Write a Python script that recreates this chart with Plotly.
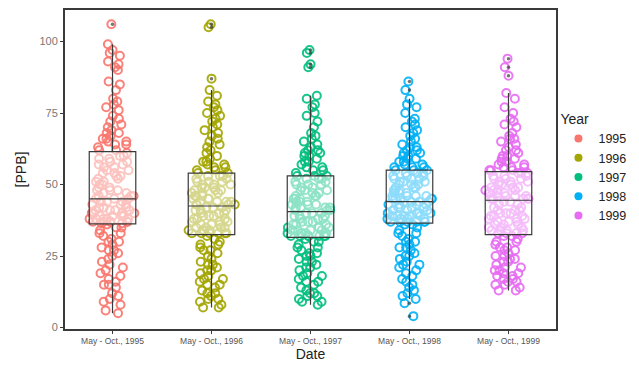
import plotly.graph_objects as go

categories = ["May - Oct., 1995", "May - Oct., 1996", "May - Oct., 1997",
              "May - Oct., 1998", "May - Oct., 1999"]
years = ["1995", "1996", "1997", "1998", "1999"]
colors = ["#F8766D", "#A3A500", "#00BF7D", "#00B0F6", "#E76BF3"]

ppb_1995 = [106, 99, 97, 96, 95, 93, 92, 91, 90, 86, 85, 83, 80, 79, 78, 77, 76, 74, 73, 72,
            71, 70, 69, 68, 68, 67, 66, 66, 65, 65, 64, 64, 63, 62, 62,
            61, 60, 60, 59, 59, 58, 58, 57, 57, 56, 56, 55, 55, 54, 54, 53, 53, 52, 52, 51,
            51, 50, 50, 49, 49, 48, 48, 48, 47, 47, 46, 46, 46, 45, 45,
            45, 44, 44, 44, 43, 43, 43, 42, 42, 42, 41, 41, 41, 41, 40, 40, 40, 40, 39, 39,
            39, 39, 38, 38, 38, 38, 38, 37, 37, 37, 37, 37, 37, 36.5, 36.5,
            36, 35, 35, 34, 33, 33, 32, 31, 30, 30, 29, 28, 27, 27, 26, 25, 24, 23, 22, 21,
            20, 19, 18, 17, 16, 15, 15, 14, 12, 11, 10, 9, 8, 6, 5]
ppb_1996 = [106, 105, 87, 83, 81, 79, 78, 77, 76, 75, 74, 73, 72, 71, 70, 69, 68, 67, 66, 65,
            64, 63, 62, 61, 60, 59, 58, 58, 57, 57, 56, 56, 55, 55, 54,
            54, 53, 53, 53, 52, 52, 51, 51, 51, 50, 50, 50, 49, 49, 49, 48, 48, 48, 47, 47,
            47, 46, 46, 46, 45, 45, 45, 44, 44, 44, 44, 43, 43, 43, 43,
            42, 42, 42, 41, 41, 41, 40, 40, 40, 39, 39, 39, 38, 38, 38, 37, 37, 37, 36, 36,
            36, 35, 35, 35, 35, 34, 34, 34, 34, 33, 33, 33, 33, 33, 33,
            32, 31, 30, 29, 29, 28, 27, 27, 26, 25, 24, 23, 22, 22, 21, 20, 20, 19, 18, 17,
            17, 16, 15, 15, 14, 13, 12, 12, 11, 10, 10, 9, 8, 7, 7]
ppb_1997 = [97, 96, 92, 91, 81, 80, 78, 77, 75, 74, 72, 70, 68, 67, 66, 65, 64, 63, 62, 62,
            61, 61, 60, 60, 59, 58, 58, 57, 56, 56, 55, 55, 54, 53, 53,
            53, 52, 52, 52, 51, 51, 50, 50, 50, 49, 49, 48, 48, 48, 47, 47, 46, 46, 46, 45,
            45, 45, 44, 44, 44, 43, 43, 43, 42, 42, 42, 42, 41, 41, 41,
            40, 40, 40, 39, 39, 39, 38, 38, 38, 37, 37, 37, 36, 36, 36, 35, 35, 35, 35, 34,
            34, 34, 34, 33, 33, 33, 33, 33, 32, 32, 32, 32, 32, 32, 32,
            31, 30, 30, 29, 28, 28, 27, 26, 26, 25, 25, 24, 23, 23, 22, 21, 21, 20, 19, 18,
            18, 17, 16, 16, 15, 14, 13, 12, 12, 11, 11, 10, 9, 9, 8]
ppb_1998 = [86, 83, 80, 78, 77, 75, 73, 72, 71, 70, 69, 68, 67, 66, 65, 64, 63, 63, 62, 62,
            61, 61, 60, 60, 59, 59, 58, 58, 57, 57, 56, 56, 56, 55, 55,
            55, 54, 54, 54, 53, 53, 53, 52, 52, 52, 51, 51, 51, 50, 50, 50, 49, 49, 49, 48,
            48, 48, 47, 47, 47, 46, 46, 46, 46, 45, 45, 45, 45, 45, 44,
            44, 44, 44, 43, 43, 43, 43, 42, 42, 42, 42, 41, 41, 41, 41, 40, 40, 40, 40, 39,
            39, 39, 39, 39, 38, 38, 38, 38, 38, 37, 37, 37, 37, 37, 37,
            36, 36, 35, 34, 33, 33, 32, 31, 30, 30, 29, 28, 28, 27, 26, 25, 25, 24, 23, 22,
            22, 21, 20, 19, 18, 17, 16, 15, 14, 13, 12, 11, 10, 8.5, 4]
ppb_1999 = [94, 91, 88, 82, 80, 77, 75, 73, 72, 71, 70, 68, 67, 66, 66, 65, 64, 63, 62, 62,
            61, 60, 60, 59, 59, 58, 58, 57, 57, 56, 56, 56, 55, 55, 55,
            54, 54, 54, 53, 53, 53, 52, 52, 52, 51, 51, 51, 50, 50, 50, 49, 49, 49, 48, 48,
            48, 48, 47, 47, 47, 47, 46, 46, 46, 46, 45, 45, 45, 45, 45,
            44, 44, 43, 43, 42, 42, 41, 41, 41, 40, 40, 40, 39, 39, 39, 38, 38, 38, 37, 37,
            37, 36, 36, 36, 35, 35, 35, 34, 34, 34, 34, 33, 33, 33, 33,
            32, 32, 31, 30, 30, 29, 28, 28, 27, 27, 26, 25, 25, 24, 24, 23, 23, 22, 21, 21,
            20, 20, 19, 19, 18, 18, 17, 17, 16, 16, 15, 15, 14, 13, 13]

series = [ppb_1995, ppb_1996, ppb_1997, ppb_1998, ppb_1999]

fig = go.Figure()
box_w = 0.47

# jittered points (box itself invisible)
for cat, yr, col, vals in zip(categories, years, colors, series):
    fig.add_trace(go.Box(
        x=[cat] * len(vals), y=vals, name=yr, showlegend=False,
        boxpoints="all", jitter=1.0, pointpos=0, width=box_w,
        line=dict(color="rgba(0,0,0,0)", width=0),
        fillcolor="rgba(0,0,0,0)",
        marker=dict(symbol="circle-open", size=8, color=col, opacity=0.9,
                    line=dict(width=2, color=col)),
        hoverinfo="y"))

# box outlines with outliers on top
for cat, yr, col, vals in zip(categories, years, colors, series):
    fig.add_trace(go.Box(
        x=[cat] * len(vals), y=vals, name=yr, showlegend=False,
        boxpoints="outliers", width=box_w, whiskerwidth=0,
        line=dict(color="#3a3a3a", width=1.2),
        fillcolor="rgba(255,255,255,0.55)",
        marker=dict(color="#3a3a3a", size=3.5, opacity=0.7),
        hoverinfo="y"))

# legend entries
for yr, col in zip(years, colors):
    fig.add_trace(go.Scatter(
        x=[None], y=[None], mode="markers", name=yr,
        marker=dict(symbol="circle", size=8, color=col)))

fig.update_layout(
    width=631, height=360,
    margin=dict(l=57, r=83, t=2, b=39),
    paper_bgcolor="white", plot_bgcolor="white",
    boxmode="overlay",
    font=dict(family="Liberation Sans, Arial, sans-serif", color="#4d4d4d"),
    legend=dict(
        title=dict(text="Year", font=dict(size=14, color="#222")),
        x=1.005, y=0.70, xanchor="left", yanchor="top",
        font=dict(size=12.5, color="#222"),
        bgcolor="rgba(0,0,0,0)", tracegroupgap=0, itemwidth=30),
    xaxis=dict(
        type="category", categoryorder="array", categoryarray=categories,
        range=[-0.48, 4.48], automargin=False,
        title=dict(text="Date", font=dict(size=14, color="#222"), standoff=2),
        tickfont=dict(size=8.5, color="#555"),
        showgrid=False, zeroline=False,
        showline=True, linecolor="#3a3a3a", linewidth=2, mirror=True,
        ticks="outside", ticklen=3, tickcolor="#3a3a3a"),
    yaxis=dict(
        range=[-0.5, 111], automargin=False,
        tickvals=[0, 25, 50, 75, 100],
        title=dict(text="[PPB]", font=dict(size=14, color="#222"), standoff=10),
        tickfont=dict(size=11, color="#777"),
        showgrid=False, zeroline=False,
        showline=True, linecolor="#3a3a3a", linewidth=2, mirror=True,
        ticks="outside", ticklen=3, tickcolor="#3a3a3a"),
)

fig.write_html("out.html")
